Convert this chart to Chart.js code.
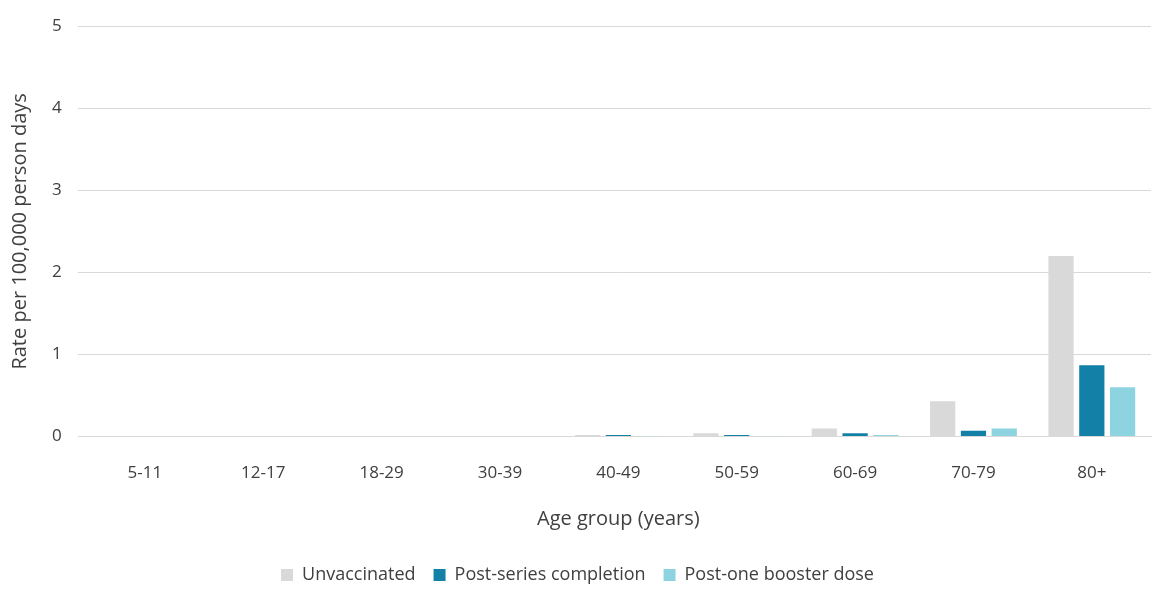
<!DOCTYPE html>
<html>
<head>
<meta charset="utf-8">
<script src="https://cdn.jsdelivr.net/npm/chart.js@4"></script>
<style>
  html, body { margin: 0; padding: 0; background: #fff; }
  #wrap { width: 1153px; height: 594px; }
</style>
</head>
<body>
<div id="wrap"><canvas id="c"></canvas></div>
<script>
const ageGroups = ['5-11', '12-17', '18-29', '30-39', '40-49', '50-59', '60-69', '70-79', '80+'];
const unvaccinated = [0, 0, 0, 0, 0.02, 0.04, 0.1, 0.43, 2.2];
const postSeries = [0, 0, 0, 0, 0.02, 0.02, 0.04, 0.07, 0.87];
const postBooster = [0, 0, 0, 0, 0.005, 0.005, 0.02, 0.1, 0.6];

Chart.defaults.font.family = "'Open Sans', 'Liberation Sans', sans-serif";
Chart.defaults.color = '#404040';

const ds = (label, data, color) => ({
    label, data, backgroundColor: color,
    barPercentage: 0.82, categoryPercentage: 0.78,
});

new Chart(document.getElementById('c'), {
    type: 'bar',
    data: {
        labels: ageGroups,
        datasets: [
            ds('Unvaccinated', unvaccinated, '#d9d9d9'),
            ds('Post-series completion', postSeries, '#1380a7'),
            ds('Post-one booster dose', postBooster, '#8dd4e0'),
        ],
    },
    options: {
        responsive: true,
        maintainAspectRatio: false,
        animation: false,
        layout: { padding: { top: 4, right: 2, left: 4, bottom: 0 } },
        plugins: {
            legend: {
                position: 'bottom',
                labels: { boxWidth: 12, boxHeight: 12, padding: 18, font: { size: 18 } },
            },
            tooltip: { enabled: false },
        },
        scales: {
            x: {
                grid: { display: false },
                border: { color: '#d9d9d9' },
                ticks: { font: { size: 17 }, padding: 18 },
                title: { display: true, text: 'Age group (years)', font: { size: 20 }, padding: { top: 6, bottom: 17 } },
            },
            y: {
                min: 0, max: 5,
                ticks: { stepSize: 1, font: { size: 17 }, padding: 16 },
                grid: { color: '#d9d9d9' },
                border: { display: false },
                title: { display: true, text: 'Rate per 100,000 person days', font: { size: 20 } },
            },
        },
    },
});
</script>
</body>
</html>
